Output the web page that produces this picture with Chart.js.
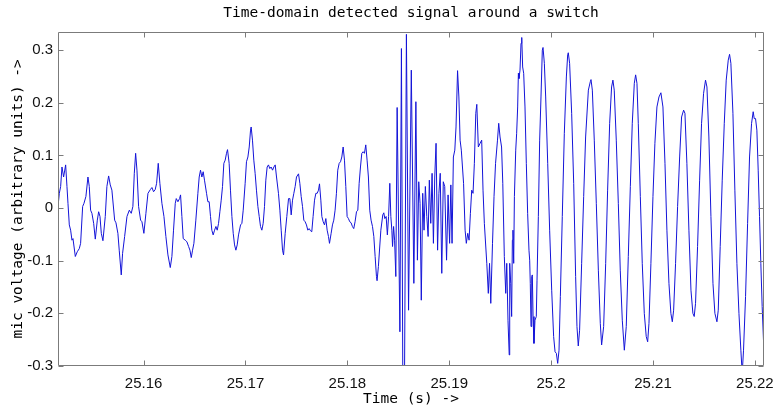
<!DOCTYPE html>
<html>
<head>
<meta charset="utf-8">
<title>Time-domain detected signal around a switch</title>
<script src="https://cdn.jsdelivr.net/npm/chart.js@4"></script>
<style>
  html, body { margin: 0; padding: 0; background: #fff; }
  #graf { display: block; }
</style>
</head>
<body>
<canvas id="graf" width="775" height="412"></canvas>
<script>
// tempo (s)
const timeSec = [
  25.15160,25.15173,25.15186,25.15199,25.15215,25.15235,25.15248,25.15258,25.15271,25.15284,
  25.15297,25.15307,25.15330,25.15349,25.15369,25.15382,25.15402,25.15415,25.15434,25.15454,
  25.15467,25.15480,25.15493,25.15510,25.15526,25.15546,25.15559,25.15572,25.15585,25.15601,
  25.15624,25.15640,25.15657,25.15673,25.15689,25.15716,25.15729,25.15748,25.15761,25.15781,
  25.15794,25.15814,25.15837,25.15860,25.15879,25.15895,25.15909,25.15922,25.15935,25.15951,
  25.15971,25.15984,25.16003,25.16023,25.16043,25.16066,25.16082,25.16098,25.16114,25.16128,
  25.16144,25.16160,25.16180,25.16200,25.16219,25.16239,25.16262,25.16278,25.16294,25.16311,
  25.16321,25.16337,25.16353,
  25.16363,25.16376,25.16389,25.16409,25.16425,25.16442,25.16455,25.16468,25.16481,25.16494,
  25.16513,25.16533,25.16546,25.16559,25.16572,25.16585,25.16598,25.16618,25.16631,25.16644,
  25.16657,25.16670,25.16683,25.16697,25.16710,25.16723,25.16736,25.16749,25.16762,25.16775,
  25.16788,25.16801,25.16814,25.16824,25.16840,25.16853,25.16867,25.16880,25.16893,25.16906,
  25.16919,25.16932,25.16952,25.16965,25.16978,25.16997,25.17010,25.17024,25.17037,25.17050,
  25.17056,25.17069,25.17082,25.17095,25.17108,25.17122,25.17135,25.17148,25.17161,25.17174,
  25.17187,25.17200,25.17213,25.17226,25.17239,25.17252,25.17266,25.17279,25.17292,25.17305,
  25.17324,25.17338,25.17351,25.17364,25.17374,25.17390,25.17406,25.17423,25.17436,25.17449,
  25.17462,25.17475,25.17488,25.17501,25.17521,25.17534,
  25.17547,25.17560,25.17573,25.17586,25.17599,25.17612,25.17625,25.17638,25.17651,25.17664,
  25.17678,25.17691,25.17704,25.17717,25.17727,25.17740,25.17750,25.17763,25.17776,25.17789,
  25.17802,25.17815,25.17825,25.17841,25.17854,25.17867,25.17880,25.17893,25.17906,25.17920,
  25.17933,25.17946,25.17959,25.17972,25.17985,25.17998,25.18011,25.18024,25.18037,25.18050,
  25.18063,25.18076,25.18090,25.18103,25.18116,25.18129,25.18142,25.18155,25.18168,25.18181,
  25.18194,25.18207,25.18220,25.18233,25.18247,25.18260,25.18273,25.18286,25.18292,25.18305,
  25.18329,25.18348,25.18358,25.18368,25.18381,25.18393,25.18405,25.18417,25.18427,25.18437,
  25.18444,25.18454,25.18464,25.18476,25.18489,25.18516,25.18531,25.18545,25.18561,25.18580,
  25.18601,25.18628,25.18653,25.18673,25.18688,25.18701,25.18714,25.18726,25.18740,25.18753,
  25.18766,25.18780,25.18793,25.18805,25.18819,25.18832,25.18845,25.18858,25.18871,25.18886,
  25.18899,25.18912,25.18927,25.18942,25.18956,25.18974,25.18989,25.19004,25.19016,25.19028,
  25.19041,25.19055,25.19067,25.19082,25.19095,25.19107,25.19119,25.19141,25.19156,25.19168,
  25.19182,25.19195,25.19208,25.19221,25.19234,25.19247,25.19261,25.19271,25.19286,25.19303,
  25.19319,25.19332,25.19345,25.19369,25.19384,25.19396,25.19408,25.19425,25.19440,25.19455,
  25.19474,25.19486,25.19499,25.19514,25.19526,25.19541,25.19555,25.19565,25.19577,25.19589,
  25.19594,25.19604,25.19613,25.19620,25.19626,25.19633,25.19640,25.19653,25.19662,25.19672,
  25.19679,25.19685,25.19695,25.19705,25.19712,25.19721,25.19731,25.19744,25.19757,25.19770,
  25.19783,25.19790,25.19796,25.19803,25.19810,25.19816,25.19823,25.19832,25.19842,25.19855,
  25.19862,25.19875,25.19888,25.19901,25.19914,25.19921,25.19934,25.19947,25.19967,25.19986,
  25.20006,25.20025,25.20039,25.20052,25.20065,25.20078,25.20091,25.20110,25.20130,25.20150,
  25.20163,25.20169,25.20182,25.20202,25.20222,25.20241,25.20254,25.20267,25.20280,25.20300,
  25.20320,25.20339,25.20366,25.20385,25.20392,25.20405,25.20424,25.20444,25.20464,25.20483,
  25.20496,25.20516,25.20536,25.20555,25.20575,25.20594,25.20607,25.20620,25.20640,25.20660,
  25.20679,25.20699,25.20719,25.20738,25.20758,25.20778,25.20797,25.20817,25.20830,25.20843,
  25.20856,25.20876,25.20895,25.20915,25.20934,25.20948,25.20961,25.20980,25.21000,25.21019,
  25.21039,25.21059,25.21078,25.21098,25.21118,25.21137,25.21157,25.21176,25.21190,25.21203,
  25.21222,25.21242,25.21262,25.21281,25.21301,25.21314,25.21333,25.21353,25.21373,25.21392,
  25.21405,25.21418,25.21438,25.21458,25.21477,25.21497,25.21516,25.21530,25.21549,25.21569,
  25.21589,25.21608,25.21628,25.21641,25.21660,25.21680,25.21700,25.21719,25.21739,25.21752,
  25.21765,25.21785,25.21804,25.21824,25.21844,25.21863,25.21876,25.21889,25.21909,25.21929,
  25.21948,25.21968,25.21984,25.21994,25.22007,25.22020,25.22033,25.22046,25.22059,25.22072,
  25.22085
];

// tensão do microfone (unidades arbitrárias)
const micVolt = [
  0.003,0.028,0.041,0.078,0.059,0.082,0.041,0.009,-0.032,-0.042,
  -0.061,-0.058,-0.092,-0.083,-0.077,-0.067,0.003,0.009,0.022,0.059,
  0.041,-0.004,-0.010,-0.029,-0.059,-0.023,-0.007,-0.016,-0.048,-0.062,
  -0.016,0.041,0.061,0.044,0.034,-0.023,-0.028,-0.048,-0.080,-0.127,
  -0.086,-0.054,-0.016,-0.004,-0.010,0.003,0.066,0.104,0.072,0.003,
  -0.023,-0.026,-0.048,-0.010,0.028,0.035,0.039,0.031,0.035,0.047,
  0.085,0.047,0.009,-0.016,-0.054,-0.089,-0.113,-0.092,-0.042,0.009,
  0.018,0.012,0.018,
  0.025,-0.016,-0.058,-0.061,-0.064,-0.073,-0.080,-0.094,-0.080,-0.067,
  -0.023,0.028,0.059,0.072,0.059,0.069,0.053,0.028,0.012,0.012,
  -0.016,-0.042,-0.051,-0.042,-0.035,-0.042,-0.029,-0.007,0.015,0.041,
  0.085,0.091,0.104,0.111,0.085,0.034,-0.016,-0.048,-0.070,-0.080,
  -0.070,-0.051,-0.032,-0.029,-0.004,0.047,0.088,0.097,0.116,0.148,
  0.154,0.129,0.091,0.066,0.034,0.003,-0.016,-0.035,-0.042,-0.029,
  0.003,0.053,0.078,0.082,0.075,0.078,0.072,0.078,0.082,0.059,
  0.028,-0.004,-0.042,-0.080,-0.089,-0.048,-0.016,0.018,0.018,-0.013,
  0.015,0.028,0.041,0.059,0.065,0.047,
  0.022,0.003,-0.023,-0.026,-0.032,-0.042,-0.039,-0.043,-0.045,-0.016,
  0.015,0.028,0.028,0.034,0.046,0.015,-0.016,-0.026,-0.032,-0.020,
  -0.042,-0.054,-0.067,-0.048,-0.032,-0.023,-0.004,0.028,0.072,0.085,
  0.088,0.097,0.116,0.091,0.041,-0.016,-0.020,-0.026,-0.028,-0.035,
  -0.039,-0.026,-0.007,-0.004,0.047,0.078,0.104,0.107,0.104,0.120,
  0.091,0.059,-0.004,-0.023,-0.035,-0.054,-0.092,-0.130,-0.138,-0.111,
  -0.042,-0.013,-0.009,-0.020,-0.016,-0.051,-0.016,0.047,-0.016,-0.042,
  -0.073,-0.035,-0.061,-0.130,0.191,-0.235,0.303,-0.340,-0.340,0.330,
  -0.194,0.262,-0.143,0.202,-0.099,0.050,0.009,-0.175,0.028,-0.042,
  0.041,-0.016,-0.054,0.053,-0.029,0.066,-0.067,0.059,0.123,-0.080,
  0.028,0.066,-0.124,0.050,0.041,-0.099,0.025,-0.067,0.044,-0.067,
  0.097,0.110,0.154,0.261,0.211,0.129,0.110,0.047,-0.042,-0.067,
  -0.048,-0.061,-0.010,0.034,0.028,0.085,0.180,0.197,0.116,0.123,
  0.129,0.034,-0.029,-0.105,-0.162,-0.105,-0.181,-0.067,0.022,0.085,
  0.129,0.161,0.135,0.116,0.047,-0.092,-0.162,-0.105,-0.213,-0.279,
  -0.105,-0.143,-0.206,-0.061,-0.042,-0.105,0.022,0.110,0.142,0.192,
  0.256,0.246,0.262,0.313,0.324,0.268,0.256,0.192,0.085,-0.010,
  -0.080,-0.099,-0.143,-0.225,-0.130,-0.127,-0.206,-0.257,-0.213,-0.206,
  -0.137,-0.016,0.129,0.211,0.300,0.305,0.275,0.211,0.085,-0.042,
  -0.156,-0.244,-0.273,-0.276,-0.295,-0.270,-0.168,-0.016,0.142,0.249,
  0.291,0.295,0.275,0.180,0.047,-0.130,-0.225,-0.262,-0.232,-0.105,
  0.022,0.135,0.224,0.240,0.244,0.224,0.129,0.009,-0.118,-0.219,
  -0.260,-0.225,-0.105,0.034,0.161,0.230,0.243,0.224,0.129,0.009,
  -0.118,-0.213,-0.270,-0.225,-0.092,0.041,0.161,0.237,0.253,0.237,
  0.161,0.022,-0.105,-0.200,-0.244,-0.254,-0.219,-0.105,0.022,0.123,
  0.192,0.211,0.219,0.192,0.085,-0.042,-0.143,-0.200,-0.216,-0.194,
  -0.105,0.003,0.097,0.173,0.186,0.180,0.085,-0.042,-0.156,-0.200,
  -0.206,-0.181,-0.073,0.053,0.161,0.218,0.243,0.230,0.135,-0.016,
  -0.143,-0.200,-0.216,-0.194,-0.073,0.053,0.161,0.243,0.281,0.292,
  0.275,0.180,0.034,-0.105,-0.200,-0.270,-0.314,-0.270,-0.168,-0.029,
  0.097,0.161,0.183,0.170,0.170,0.148,0.072,-0.016,-0.105,-0.187,
  -0.251
];

// marcas dos eixos
const xTickVals = [25.16, 25.17, 25.18, 25.19, 25.20, 25.21, 25.22];
const yTickVals = [-0.3, -0.2, -0.1, 0, 0.1, 0.2, 0.3];
const xRange = [25.1516, 25.2209];
const yRange = [-0.3, 0.335];

const monoFont = "'DejaVu Sans Mono', monospace";
const sansFont = "'Liberation Sans', Arial, sans-serif";

// moldura e marcas para dentro (estilo MATLAB)
const molduraPlugin = {
    id: 'moldura',
    afterDatasetsDraw(chart) {
        const { ctx, chartArea: a, scales } = chart;
        const L = Math.round(a.left) + 0.5, R = Math.round(a.right) - 0.5;
        const T = Math.round(a.top) + 0.5, B = Math.round(a.bottom) - 0.5;
        const len = 5;
        ctx.save();
        ctx.strokeStyle = '#7b7b7b';
        ctx.lineWidth = 1;
        ctx.beginPath();
        ctx.rect(L, T, R - L, B - T);
        xTickVals.forEach(v => {
            const px = Math.round(scales.x.getPixelForValue(v)) + 0.5;
            ctx.moveTo(px, B); ctx.lineTo(px, B - len);
            ctx.moveTo(px, T); ctx.lineTo(px, T + len);
        });
        yTickVals.forEach(v => {
            const py = Math.round(scales.y.getPixelForValue(v)) + 0.5;
            ctx.moveTo(L, py); ctx.lineTo(L + len, py);
            ctx.moveTo(R, py); ctx.lineTo(R - len, py);
        });
        ctx.stroke();
        ctx.restore();
    }
};

const pontos = timeSec.map((t, i) => ({ x: t, y: micVolt[i] }));

new Chart(document.getElementById('graf'), {
    type: 'scatter',
    data: {
        datasets: [{
            label: 'mic voltage',
            data: pontos,
            showLine: true,
            borderColor: '#1414d8',
            borderWidth: 1,
            pointRadius: 0,
            tension: 0
        }]
    },
    options: {
        responsive: false,
        animation: false,
        devicePixelRatio: 1,
        layout: { padding: { left: 0, right: 11, top: 0, bottom: 0 } },
        plugins: {
            legend: { display: false },
            tooltip: { enabled: false },
            title: {
                display: true,
                text: 'Time-domain detected signal around a switch',
                fullSize: false,
                color: '#000',
                font: { family: monoFont, size: 14.5, weight: 'normal' },
                padding: { top: 4.6, bottom: 9.7 }
            }
        },
        scales: {
            x: {
                type: 'linear',
                min: xRange[0],
                max: xRange[1],
                afterBuildTicks: axis => { axis.ticks = xTickVals.map(v => ({ value: v })); },
                afterFit: axis => {
                    axis.height = 46;
                    axis.paddingLeft = 0;
                    axis.paddingRight = 0;
                },
                grid: { display: false, drawTicks: false },
                border: { display: false },
                ticks: {
                    color: '#111',
                    font: { family: sansFont, size: 15 },
                    padding: 9,
                    maxRotation: 0,
                    autoSkip: false,
                    callback: v => Number(v.toFixed(2)).toString()
                },
                title: {
                    display: true,
                    text: 'Time (s) ->',
                    color: '#000',
                    font: { family: monoFont, size: 14.5 },
                    padding: { top: 0, bottom: 4 }
                }
            },
            y: {
                min: yRange[0],
                max: yRange[1],
                afterBuildTicks: axis => { axis.ticks = yTickVals.map(v => ({ value: v })); },
                afterFit: axis => {
                    axis.width = 58;
                    axis.paddingTop = 0;
                    axis.paddingBottom = 0;
                },
                grid: { display: false, drawTicks: false },
                border: { display: false },
                ticks: {
                    color: '#111',
                    font: { family: sansFont, size: 15 },
                    padding: 5,
                    callback: v => Number(v.toFixed(1)).toString()
                },
                title: {
                    display: true,
                    text: 'mic voltage (arbitrary units) ->',
                    color: '#000',
                    font: { family: monoFont, size: 14.5 },
                    padding: { top: 10, bottom: 0 }
                }
            }
        }
    },
    plugins: [molduraPlugin]
});
</script>
</body>
</html>
